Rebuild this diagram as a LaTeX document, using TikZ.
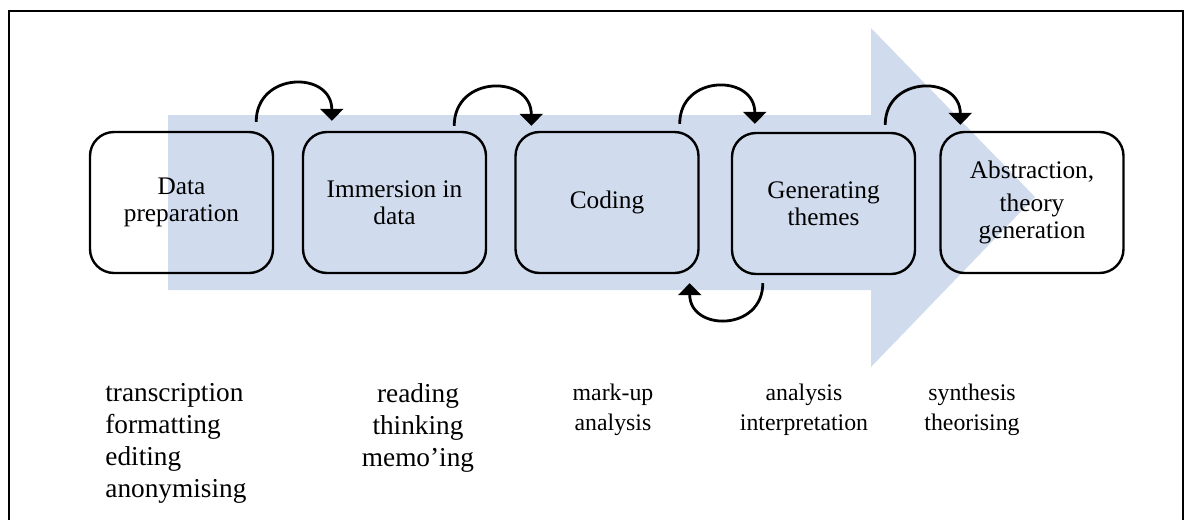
\documentclass[tikz,border=0pt]{standalone}
\usepackage{fontspec}
\setmainfont{Liberation Serif}
\usetikzlibrary{arrows.meta, calc}
\definecolor{flowblue}{RGB}{208,220,238}

\begin{document}
\begin{tikzpicture}[x=0.5pt, y=-0.5pt, >={Triangle[width=11.5pt,length=6pt]},
    stagebox/.style={draw, line width=1.2pt, rounded corners=12pt, minimum width=91.5pt,
        minimum height=70.5pt, align=center, inner sep=0pt, font=\fontsize{12.65}{13.3}\selectfont},
    hop/.style={->, line width=1.4pt},
    bignote/.style={inner sep=0pt, font=\fontsize{13.65}{16}\selectfont},
    smallnote/.style={anchor=north, inner sep=0pt, align=center, font=\fontsize{11.9}{15}\selectfont}]
        \useasboundingbox (0,0) rectangle (1187,520);
        % Frame, open at the bottom
        \draw[line width=1pt] (9,520) -- (9,11) -- (1183,11) -- (1183,520);

        % Big arrow behind the stages
        \fill[flowblue] (168,115) -- (871,115) -- (871,28) -- (1035,197)
            -- (871,367) -- (871,290) -- (168,290) -- cycle;

        % Stages
        \node[stagebox] (prep) at (181.5,202.5) {Data\\preparation};
        \node[stagebox] (immers) at (394.5,202.5) {Immersion in\\data};
        \node[stagebox] (coding) at (607,202.5) {Coding};
        \node[stagebox] (themes) at (823.5,203.5) {Generating\\themes};
        \node[stagebox] (abstr) at (1032,202.5) {Abstraction,\\[3pt]theory\\generation};

        % Hops between stages
        \draw[hop] ([xshift=-9pt,yshift=4.5pt]prep.north east) to[out=90,in=90,looseness=1.7] ([xshift=15pt,yshift=5pt]immers.north west);
        \draw[hop] ([xshift=-16.5pt,yshift=2.5pt]immers.north east) to[out=90,in=90,looseness=1.7] ([xshift=8.5pt,yshift=2.5pt]coding.north west);
        \draw[hop] ([xshift=-10pt,yshift=3.5pt]coding.north east) to[out=90,in=90,looseness=1.7] ([xshift=12pt,yshift=4pt]themes.north west);
        \draw[hop] ([xshift=-15.5pt,yshift=3.5pt]themes.north east) to[out=90,in=90,looseness=1.7] ([xshift=10.5pt,yshift=3pt]abstr.north west);
        % back from themes to coding
        \draw[hop] ([xshift=16pt,yshift=-4pt]themes.south west) to[out=-90,in=-90,looseness=1.7] ([xshift=-5pt,yshift=-4.5pt]coding.south east);

        % Activities under each stage
        \node[bignote, anchor=north west, align=left] (prepnotes) at (105,383) {transcription\\formatting\\editing\\anonymising};
        \node[bignote, anchor=north, align=center] (immersnotes) at (418,383) {reading\\thinking\\memo’ing};
        \node[smallnote] (codingnotes) at (613,384) {mark-up\\analysis};
        \node[smallnote] (themesnotes) at (804,384) {analysis\\interpretation};
        \node[smallnote] (abstrnotes) at (972,384) {synthesis\\theorising};
\end{tikzpicture}
\end{document}
